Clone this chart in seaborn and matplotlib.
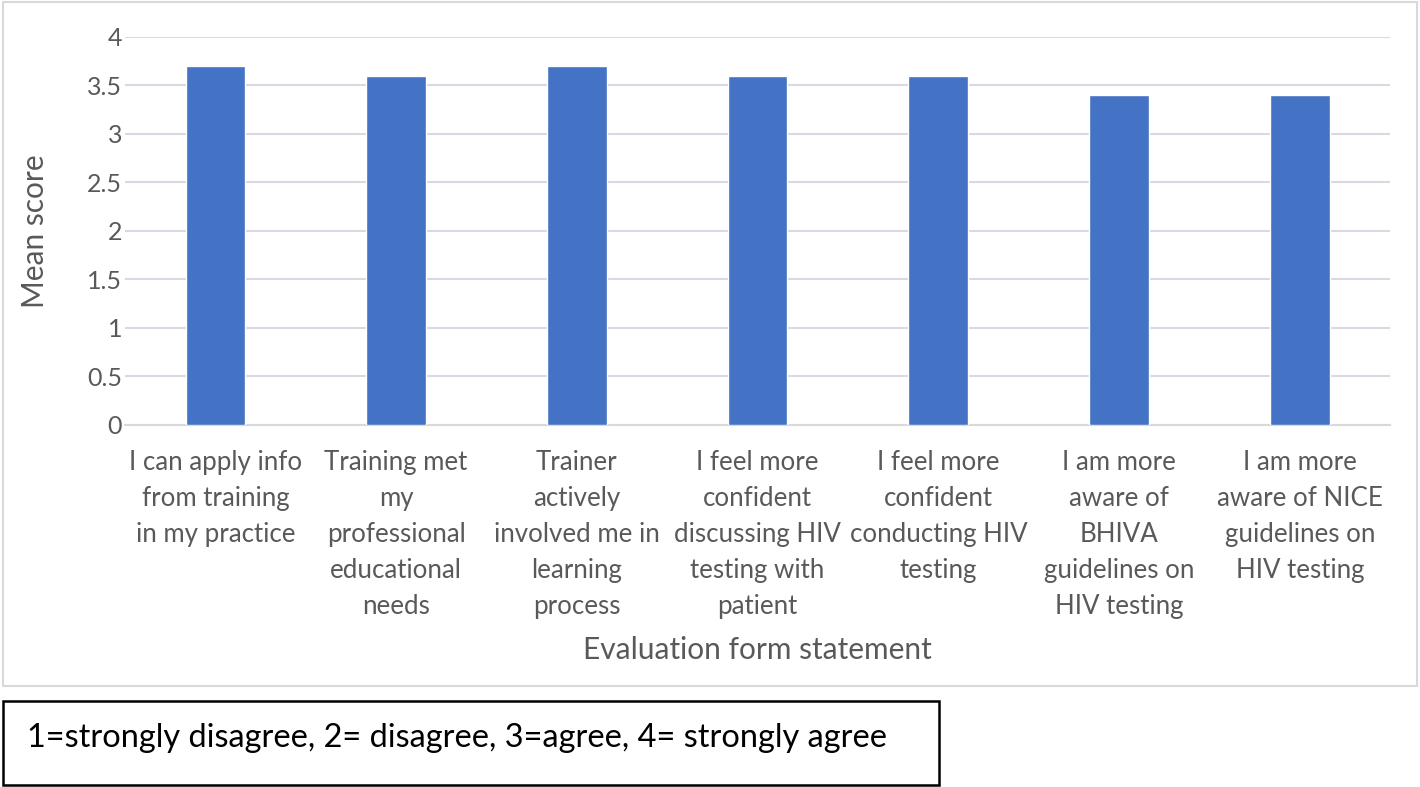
import matplotlib
matplotlib.use("Agg")
import matplotlib.pyplot as plt
import seaborn as sns
import pandas as pd
from matplotlib.patches import Rectangle

# statements on the evaluation form and their mean scores
statements = [
    "I can apply info\nfrom training\nin my practice",
    "Training met\nmy\nprofessional\neducational\nneeds",
    "Trainer\nactively\ninvolved me in\nlearning\nprocess",
    "I feel more\nconfident\ndiscussing HIV\ntesting with\npatient",
    "I feel more\nconfident\nconducting HIV\ntesting",
    "I am more\naware of\nBHIVA\nguidelines on\nHIV testing",
    "I am more\naware of NICE\nguidelines on\nHIV testing",
]
mean_scores = [3.7, 3.6, 3.7, 3.6, 3.6, 3.4, 3.4]
y_ticks = [0, 0.5, 1, 1.5, 2, 2.5, 3, 3.5, 4]
y_tick_labels = ["0", "0.5", "1", "1.5", "2", "2.5", "3", "3.5", "4"]

df = pd.DataFrame({"statement": statements, "score": mean_scores})

sns.set_style("white")
plt.rcParams["font.family"] = ["Lato", "DejaVu Sans"]

fig = plt.figure(figsize=(14.2, 7.87), dpi=100)
ax = fig.add_axes([0.088, 0.46, 0.891, 0.493])

sns.barplot(data=df, x="statement", y="score", color="#4472C4",
            width=0.33, saturation=1, ax=ax, zorder=3)

ax.set_ylim(0, 4)
ax.set_xlim(-0.5, len(statements) - 0.5)
ax.set_yticks(y_ticks)
ax.set_yticklabels(y_tick_labels)
ax.yaxis.grid(True, color="#d9d9e3", linewidth=1.5, zorder=0)
ax.set_axisbelow(True)

for s in ["top", "right", "left"]:
    ax.spines[s].set_visible(False)
ax.spines["bottom"].set_color("#d9d9d9")
ax.spines["bottom"].set_linewidth(1.5)

ax.tick_params(axis="y", length=0, labelsize=18, labelcolor="#595959", pad=2)
ax.tick_params(axis="x", length=0, labelsize=18.6, labelcolor="#595959", pad=18)
for lab in ax.get_xticklabels():
    lab.set_linespacing(1.55)

# boundary tick marks between categories
ax.set_xticks([i - 0.5 for i in range(len(statements) + 1)], minor=True)
ax.tick_params(axis="x", which="minor", length=10, width=1.5, color="#d9d9d9")

ax.set_ylabel("Mean score", fontsize=21.5, color="#595959", va="center")
ax.yaxis.set_label_coords(-0.071, 0.5)
ax.set_xlabel("Evaluation form statement", fontsize=21.5, color="#595959", va="center")
ax.xaxis.set_label_coords(0.5, -0.58)

# outer chart frame
fig.patches.append(Rectangle((0.002, 1 - 686 / 787), 0.996, 686 / 787 - 0.002,
                             transform=fig.transFigure, fill=False,
                             edgecolor="#d9d9d9", linewidth=1.5))
# note box
fig.patches.append(Rectangle((0.002, 0.003), 936 / 1420, 84 / 787,
                             transform=fig.transFigure, fill=False,
                             edgecolor="black", linewidth=1.8))
fig.text(27 / 1420, 1 - 738 / 787,
         "1=strongly disagree, 2= disagree, 3=agree, 4= strongly agree",
         fontsize=23.4, color="black", va="center", ha="left")

fig.savefig("out.png", dpi=100)
